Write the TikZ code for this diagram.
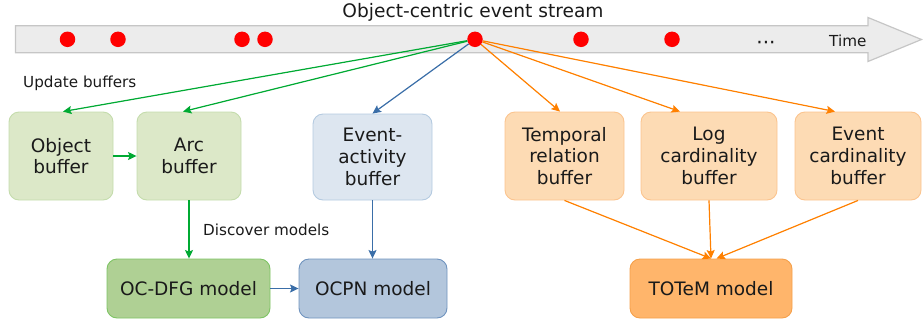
\documentclass[tikz,border=0pt]{standalone}
\usepackage{fontspec}
\setmainfont{DejaVu Sans}
\usetikzlibrary{arrows.meta}

\definecolor{bandfill}{HTML}{ECECEC}
\definecolor{bandline}{HTML}{C6C6C6}
\definecolor{evred}{HTML}{FF0000}
\definecolor{lgreen}{HTML}{00AA33}
\definecolor{lblue}{HTML}{3A6EA8}
\definecolor{lorange}{HTML}{FF8000}
\definecolor{gbufill}{HTML}{DCE8C8}
\definecolor{gbuline}{HTML}{C4DCAC}
\definecolor{bbufill}{HTML}{DDE6F0}
\definecolor{bbuline}{HTML}{B4CAE0}
\definecolor{obufill}{HTML}{FDDBB4}
\definecolor{obuline}{HTML}{FBC48E}
\definecolor{gmodfill}{HTML}{AFD094}
\definecolor{gmodline}{HTML}{7EC464}
\definecolor{bmodfill}{HTML}{B3C6DC}
\definecolor{bmodline}{HTML}{6F93BE}
\definecolor{omodfill}{HTML}{FFB56B}
\definecolor{omodline}{HTML}{F5A04A}
\definecolor{txt}{HTML}{1A1A1A}

\begin{document}
\begin{tikzpicture}[x=1pt,y=-1pt,
  box/.style={draw, line width=0.9pt, rounded corners=10pt, inner sep=0pt,
    align=center, text=txt, font=\fontsize{18.5}{21.7}\selectfont},
  gbuf/.style={box, fill=gbufill, draw=gbuline},
  bbuf/.style={box, fill=bbufill, draw=bbuline},
  obuf/.style={box, fill=obufill, draw=obuline},
  gmod/.style={box, fill=gmodfill, draw=gmodline},
  bmod/.style={box, fill=bmodfill, draw=bmodline},
  omod/.style={box, fill=omodfill, draw=omodline},
  evdot/.style={circle, fill=evred, inner sep=0pt, minimum size=15.5pt},
  lbl/.style={text=txt, inner sep=0pt, font=\fontsize{15.2}{18}\selectfont},
  conn/.style={line width=1.2pt, -{Stealth[length=8.5pt, width=8pt, inset=1.5pt]}},
  gconn/.style={conn, draw=lgreen, fill=lgreen},
  bconn/.style={conn, draw=lblue, fill=lblue},
  oconn/.style={conn, draw=lorange, fill=lorange}]

\useasboundingbox (0,0) rectangle (923,322);

% event stream band with its arrow head
\draw[fill=bandfill, draw=bandline, line width=1.2pt]
  (15.5,25.8) -- (868,25.8) -- (868,17.5) -- (921.5,39.5) -- (868,61.5)
  -- (868,52.8) -- (15.5,52.8) -- cycle;

\node[lbl, anchor=base, font=\fontsize{18.6}{22}\selectfont] (title) at (473,17.6) {Object-centric event stream};
\node[lbl, anchor=base west] (time) at (829,46.8) {Time};
\node[lbl, font=\fontsize{20}{22}\selectfont, anchor=base] (more) at (766,49.5) {···};

% events on the stream
\node[evdot] (e1) at (67.5,39.3) {};
\node[evdot] (e2) at (118,39.3) {};
\node[evdot] (e3) at (242,39.3) {};
\node[evdot] (e4) at (265,39.3) {};
\node[evdot] (ev) at (475,39.3) {};
\node[evdot] (e6) at (581,39.3) {};
\node[evdot] (e7) at (672,39.3) {};

% buffers
\node[gbuf, minimum width=104pt, minimum height=88pt] (obj) at (61,156) {Object\\buffer};
\node[gbuf, minimum width=104pt, minimum height=88pt] (arc) at (189,156) {Arc\\buffer};
\node[bbuf, minimum width=119pt, minimum height=86pt] (ea) at (372.5,157) {Event-\\activity\\buffer};
\node[obuf, minimum width=119pt, minimum height=88pt] (temp) at (564.5,156) {Temporal\\relation\\buffer};
\node[obuf, minimum width=136pt, minimum height=88pt] (logc) at (709,156) {Log\\cardinality\\buffer};
\node[obuf, minimum width=126pt, minimum height=88pt] (evc) at (858,156) {Event\\cardinality\\buffer};

% models
\node[gmod, minimum width=163pt, minimum height=59pt] (ocdfg) at (188.5,288.5) {OC-DFG model};
\node[bmod, minimum width=148pt, minimum height=59pt] (ocpn) at (373,288.5) {OCPN model};
\node[omod, minimum width=162pt, minimum height=59pt] (totem) at (711,288.5) {TOTeM model};

\node[lbl, anchor=base west] (upd) at (23,87.3) {Update buffers};
\node[lbl, anchor=base west] (disc) at (203,235) {Discover models};

% updating the buffers from the current event
\draw[gconn] (ev) -- ([xshift=2pt]obj.north);
\draw[gconn] (ev) -- ([xshift=-6pt]arc.north);
\draw[bconn] (ev) -- (ea.north);
\draw[oconn] (ev) -- ([xshift=-4.5pt]temp.north);
\draw[oconn] (ev) -- ([xshift=-29pt]logc.north);
\draw[oconn] (ev) -- ([xshift=-23pt]evc.north);

% buffer to buffer
\draw[gconn] (obj.east) -- (arc.west);

% discovering the models
\draw[gconn] (arc.south) -- (arc.south |- ocdfg.north);
\draw[bconn] (ea.south) -- (ea.south |- ocpn.north);
\draw[bconn] (ocdfg.east) -- (ocpn.west);
\draw[oconn] (temp.south) -- (totem.north);
\draw[oconn] (logc.south) -- (totem.north);
\draw[oconn] (evc.south) -- ([xshift=5.5pt]totem.north);

\end{tikzpicture}
\end{document}
